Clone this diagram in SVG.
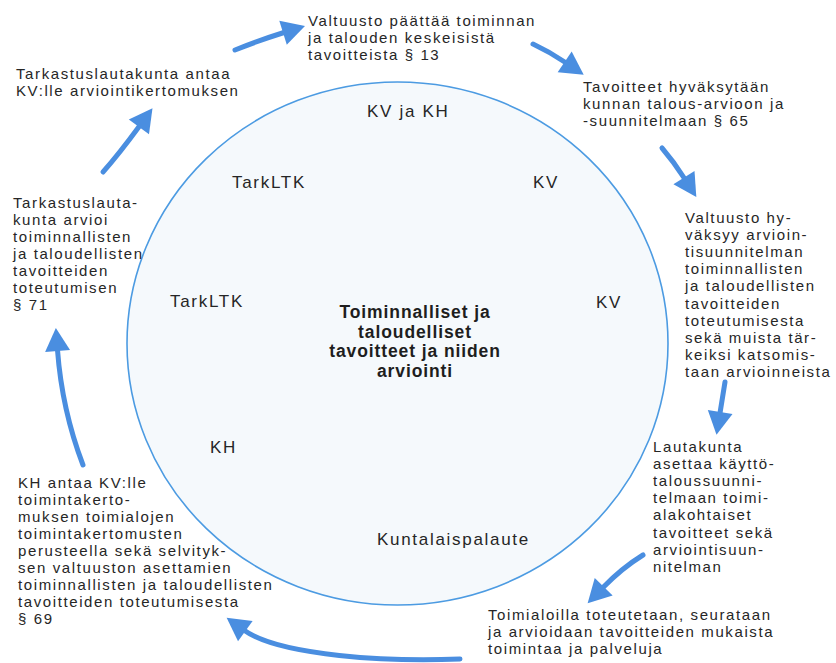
<svg xmlns="http://www.w3.org/2000/svg" width="836" height="663" viewBox="0 0 836 663">
<style>
  .t { font-family: "Liberation Sans", Arial, sans-serif; font-size: 15px; letter-spacing: 1.6px; fill: #262626; }
  .lbl { font-family: "Liberation Sans", Arial, sans-serif; font-size: 17px; letter-spacing: 1.7px; fill: #262626; }
  .ctr { font-family: "Liberation Sans", Arial, sans-serif; font-size: 17.5px; letter-spacing: 0.9px; font-weight: bold; fill: #1e1e1e; text-anchor: middle; }
  .arr { fill: none; stroke: #4a8ee0; stroke-width: 5; stroke-linecap: round; marker-end: url(#head); }
  .circ { fill: #f5f9fc; stroke: #4c9be2; stroke-width: 1.6; }
</style>
<defs>
  <marker id="head" markerUnits="userSpaceOnUse" markerWidth="30" markerHeight="30" viewBox="0 -15 26 30" refX="1" refY="0" orient="auto">
    <path d="M0,-12.5 L23,0 L0,12.5 z" fill="#4a8ee0"/>
  </marker>
</defs>
<rect width="836" height="663" fill="#ffffff"/>

<g id="cycle">
  <ellipse class="circ" cx="397.5" cy="343.5" rx="270.5" ry="261.5"/>
  <text class="lbl" x="367" y="117">KV ja KH</text>
  <text class="lbl" x="533" y="188">KV</text>
  <text class="lbl" x="232" y="188">TarkLTK</text>
  <text class="lbl" x="170" y="307">TarkLTK</text>
  <text class="lbl" x="596" y="308">KV</text>
  <text class="lbl" x="210" y="453">KH</text>
  <text class="lbl" x="377" y="545">Kuntalaispalaute</text>
  <text class="ctr" y="318"><tspan x="415">Toiminnalliset ja</tspan><tspan x="415" dy="19.7">taloudelliset</tspan><tspan x="415" dy="19.7">tavoitteet ja niiden</tspan><tspan x="415" dy="19.7">arviointi</tspan></text>
</g>

<g id="step-valtuusto-paattaa">
  <text class="t" y="26"><tspan x="308">Valtuusto päättää toiminnan</tspan><tspan x="308" dy="17">ja talouden keskeisistä</tspan><tspan x="308" dy="17">tavoitteista § 13</tspan></text>
</g>

<g id="step-tavoitteet-hyvaksytaan">
  <text class="t" y="92"><tspan x="583">Tavoitteet hyväksytään</tspan><tspan x="583" dy="17">kunnan talous-arvioon ja</tspan><tspan x="583" dy="17">-suunnitelmaan § 65</tspan></text>
</g>

<g id="step-valtuusto-hyvaksyy">
  <text class="t" y="223"><tspan x="685">Valtuusto hy-</tspan><tspan x="685" dy="17.1">väksyy arvioin-</tspan><tspan x="685" dy="17.1">tisuunnitelman</tspan><tspan x="685" dy="17.1">toiminnallisten</tspan><tspan x="685" dy="17.1">ja taloudellisten</tspan><tspan x="685" dy="17.1">tavoitteiden</tspan><tspan x="685" dy="17.1">toteutumisesta</tspan><tspan x="685" dy="17.1">sekä muista tär-</tspan><tspan x="685" dy="17.1">keiksi katsomis-</tspan><tspan x="685" dy="17.1">taan arvioinneista</tspan></text>
</g>

<g id="step-lautakunta">
  <text class="t" y="452"><tspan x="653">Lautakunta</tspan><tspan x="653" dy="17.1">asettaa käyttö-</tspan><tspan x="653" dy="17.1">taloussuunni-</tspan><tspan x="653" dy="17.1">telmaan toimi-</tspan><tspan x="653" dy="17.1">alakohtaiset</tspan><tspan x="653" dy="17.1">tavoitteet sekä</tspan><tspan x="653" dy="17.1">arviointisuun-</tspan><tspan x="653" dy="17.1">nitelman</tspan></text>
</g>

<g id="step-toimialoilla">
  <text class="t" y="620"><tspan x="488">Toimialoilla toteutetaan, seurataan</tspan><tspan x="488" dy="17">ja arvioidaan tavoitteiden mukaista</tspan><tspan x="488" dy="17">toimintaa ja palveluja</tspan></text>
</g>

<g id="step-kh-antaa">
  <text class="t" y="488"><tspan x="18">KH antaa KV:lle</tspan><tspan x="18" dy="17">toimintakerto-</tspan><tspan x="18" dy="17">muksen toimialojen</tspan><tspan x="18" dy="17">toimintakertomusten</tspan><tspan x="18" dy="17">perusteella sekä selvityk-</tspan><tspan x="18" dy="17">sen valtuuston asettamien</tspan><tspan x="18" dy="17">toiminnallisten ja taloudellisten</tspan><tspan x="18" dy="17">tavoitteiden toteutumisesta</tspan><tspan x="18" dy="17">§ 69</tspan></text>
</g>

<g id="step-tarkastuslautakunta-arvioi">
  <text class="t" y="208"><tspan x="13">Tarkastuslauta-</tspan><tspan x="13" dy="17">kunta arvioi</tspan><tspan x="13" dy="17">toiminnallisten</tspan><tspan x="13" dy="17">ja taloudellisten</tspan><tspan x="13" dy="17">tavoitteiden</tspan><tspan x="13" dy="17">toteutumisen</tspan><tspan x="13" dy="17">§ 71</tspan></text>
</g>

<g id="step-tarkastuslautakunta-antaa">
  <text class="t" y="79"><tspan x="16">Tarkastuslautakunta antaa</tspan><tspan x="16" dy="17">KV:lle arviointikertomuksen</tspan></text>
</g>

<g id="connectors">
  <path class="arr" d="M235,50 Q260,40 284,32.5"/>
  <path class="arr" d="M533,44 Q550,52 565.5,62.5"/>
  <path class="arr" d="M662,148 Q674,162 684.5,178.5"/>
  <path class="arr" d="M725,382 L720,413"/>
  <path class="arr" d="M643,555 Q622,568 603,587.5"/>
  <path class="arr" d="M460,659 C390,662 280,656 244.5,630.5"/>
  <path class="arr" d="M83,465 Q62,410 57.5,350"/>
  <path class="arr" d="M103,172 Q119,154 139.5,126"/>
</g>
</svg>
